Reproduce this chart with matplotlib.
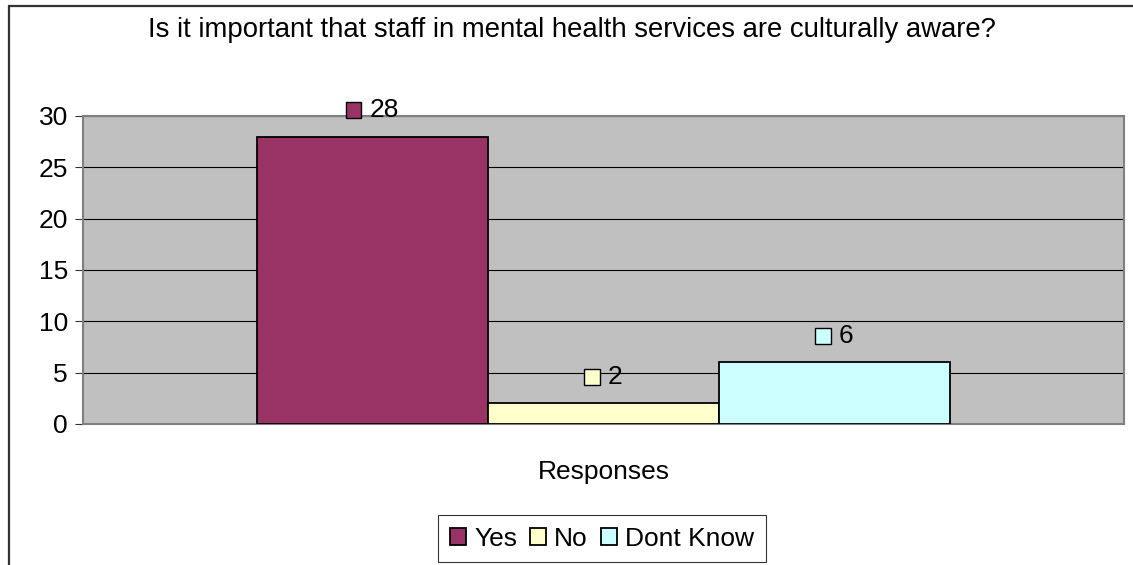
import matplotlib.pyplot as plt
from matplotlib.patches import Rectangle
from matplotlib.offsetbox import AnnotationBbox, DrawingArea, TextArea, HPacker

# Survey answers
title = "Is it important that staff in mental health services are culturally aware?"
category = "Responses"
answers = ["Yes", "No", "Dont Know"]
counts = [28, 2, 6]
colors = ["#993366", "#FFFFCC", "#CCFFFF"]

fontsize = 19
plt.rcParams.update({
    'font.family': 'Liberation Sans',
    'font.size': fontsize,
})

fig = plt.figure(figsize=(11.33, 5.65), dpi=100)
ax = fig.add_axes([0.0733, 0.2496, 0.9187, 0.5451])

# chart area frame (runs off the right and bottom edge)
fig.patches.append(Rectangle((8.5 / 1133, -0.1), 1.2, 1 - 6.5 / 565 + 0.1,
                             transform=fig.transFigure, fill=False,
                             edgecolor='#333333', linewidth=1.6, zorder=0))

ax.set_facecolor('#C0C0C0')
ax.set_axisbelow(True)
ax.grid(axis='y', color='black', linewidth=0.8)

bar_w = 0.222
offsets = [-bar_w, 0, bar_w]
for off, name, val, col in zip(offsets, answers, counts, colors):
    ax.bar(off, val, width=bar_w, color=col, edgecolor='black',
           linewidth=1.3, label=name, zorder=3)

    # value label: small colour key + number, centred over the bar
    da = DrawingArea(11, 11, 0, 0)
    da.add_artist(Rectangle((0, 0), 11, 11, facecolor=col,
                            edgecolor='black', linewidth=1.0))
    txt = TextArea(str(val), textprops=dict(fontsize=fontsize))
    pack = HPacker(children=[da, txt], align='center', pad=0, sep=6)
    ab = AnnotationBbox(pack, (off, val), xybox=(0, 19),
                        xycoords='data', boxcoords='offset points',
                        box_alignment=(0.5, 0.5), frameon=False, zorder=5)
    ax.add_artist(ab)

ax.set_xlim(-0.5, 0.5)
ax.set_ylim(0, 30)
ax.set_yticks(range(0, 31, 5))
ax.set_xticks([])
ax.tick_params(axis='y', direction='out', length=6, width=0.8,
               color='#333333', pad=5, labelsize=fontsize)

for side in ['left', 'right', 'top', 'bottom']:
    ax.spines[side].set_color('#808080')
    ax.spines[side].set_linewidth(1.5)

fig.text(572 / 1133, 1 - 30 / 565, title, ha='center', va='center',
         fontsize=19.8)
fig.text(604 / 1133, 1 - 472 / 565, category, ha='center', va='center',
         fontsize=fontsize)

leg = fig.legend(loc='center', bbox_to_anchor=(602 / 1133, 1 - 538.5 / 565),
                 ncol=3, frameon=True, fancybox=False, edgecolor='black',
                 handlelength=0.6, handleheight=0.6, handletextpad=0.3,
                 columnspacing=0.5, borderpad=0.45, fontsize=fontsize)
leg.get_frame().set_linewidth(0.8)

plt.savefig('out.png', dpi=100)
